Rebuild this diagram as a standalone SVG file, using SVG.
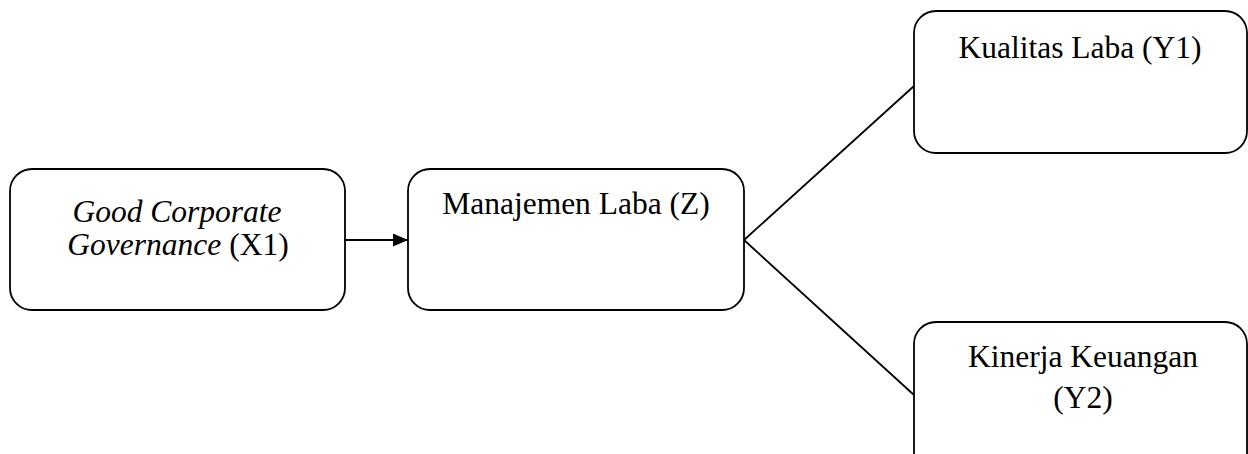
<svg xmlns="http://www.w3.org/2000/svg" width="1248" height="454" viewBox="0 0 1248 454">
<style>
.box{fill:#fff;stroke:#000;stroke-width:1.8}
.t{font-family:"Liberation Serif","Times New Roman",serif;font-size:31.5px;fill:#000;text-anchor:middle}
.i{font-style:italic}
.c{stroke:#000;stroke-width:1.8;fill:none}
</style>
<defs>
<marker id="ah" viewBox="0 0 15 13" refX="15" refY="6.5" markerWidth="15" markerHeight="13" markerUnits="userSpaceOnUse" orient="auto">
<path d="M0,0 L15,6.5 L0,13 Z" fill="#000"/>
</marker>
</defs>
<g id="connectors">
<line class="c" x1="345" y1="240" x2="408" y2="240" marker-end="url(#ah)"/>
<line class="c" x1="744" y1="240" x2="914" y2="86"/>
<line class="c" x1="744" y1="240" x2="914" y2="395"/>
</g>
<g id="x1">
<rect class="box" x="10" y="169" width="335" height="141" rx="22"/>
<text class="t" x="177" y="222"><tspan class="i">Good Corporate</tspan></text>
<text class="t" x="178" y="255"><tspan class="i">Governance</tspan> (X1)</text>
</g>
<g id="z">
<rect class="box" x="408" y="169" width="336" height="141" rx="22"/>
<text class="t" x="576" y="214">Manajemen Laba (Z)</text>
</g>
<g id="y1">
<rect class="box" x="914" y="11" width="333" height="142" rx="22"/>
<text class="t" x="1080" y="58">Kualitas Laba (Y1)</text>
</g>
<g id="y2">
<rect class="box" x="914" y="322" width="333" height="160" rx="22"/>
<text class="t" x="1083" y="367">Kinerja Keuangan</text>
<text class="t" x="1083" y="408">(Y2)</text>
</g>
</svg>
